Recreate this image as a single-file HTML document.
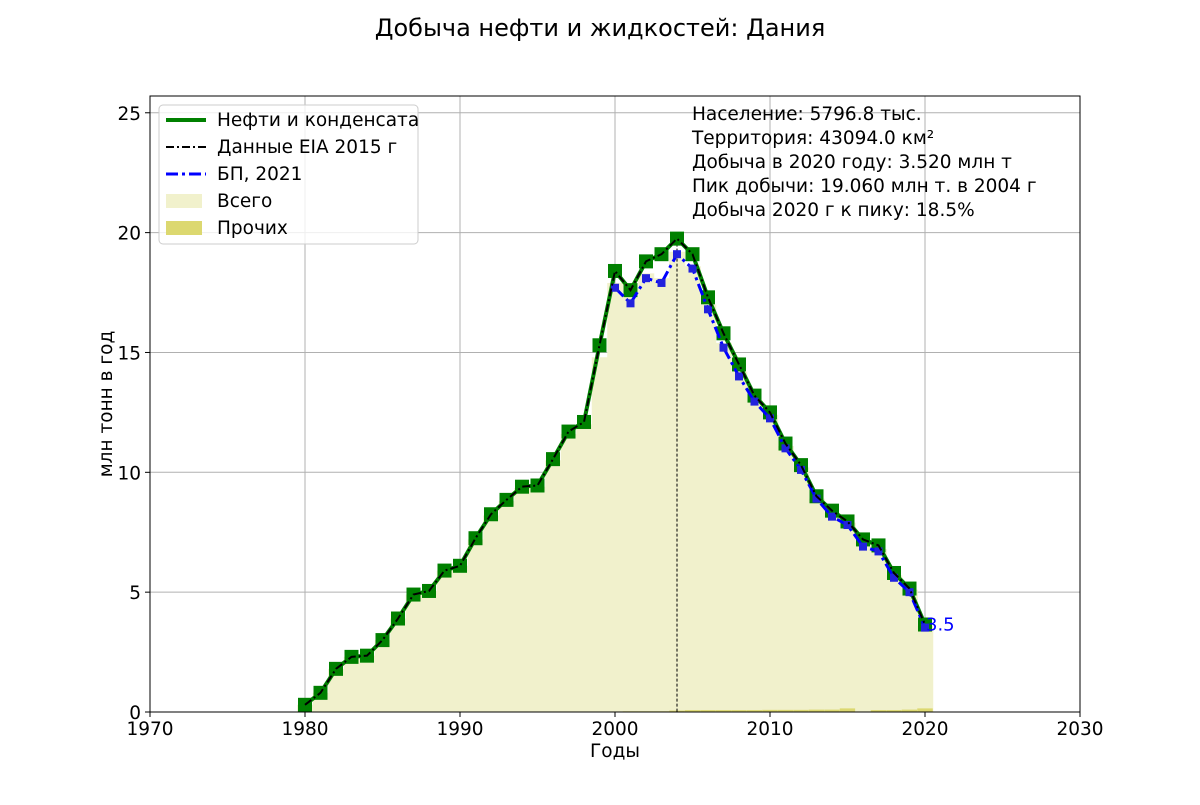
<!DOCTYPE html>
<html><head><meta charset="utf-8"><style>
body{margin:0;background:#fff;font-family:"Liberation Sans","DejaVu Sans",sans-serif}
svg text{font-family:"DejaVu Sans","Liberation Sans",sans-serif}
</style></head><body>
<svg id="c" width="1200" height="800" xmlns="http://www.w3.org/2000/svg"></svg>
<script>
const years=[1980,1981,1982,1983,1984,1985,1986,1987,1988,1989,1990,1991,1992,1993,1994,1995,1996,1997,1998,1999,2000,2001,2002,2003,2004,2005,2006,2007,2008,2009,2010,2011,2012,2013,2014,2015,2016,2017,2018,2019,2020];
const oil=[0.3,0.8,1.8,2.3,2.35,3.0,3.9,4.9,5.05,5.9,6.1,7.25,8.25,8.85,9.4,9.45,10.55,11.7,12.1,15.3,18.4,17.6,18.8,19.1,19.75,19.1,17.3,15.8,14.5,13.2,12.5,11.2,10.3,9.0,8.4,7.95,7.2,6.95,5.8,5.15,3.65];
const eia=[0.3,0.8,1.8,2.3,2.35,3.0,3.9,4.9,5.05,5.9,6.1,7.25,8.25,8.85,9.4,9.45,10.55,11.7,12.1,15.3,18.4,17.6,18.8,19.1,19.75,19.1,17.3,15.8,14.5,13.2,12.5,11.2,10.3,9.0,8.4,7.95,7.2,6.95,5.8,5.15,3.65];
const bpYears=[2000,2001,2002,2003,2004,2005,2006,2007,2008,2009,2010,2011,2012,2013,2014,2015,2016,2017,2018,2019,2020];
const bp=[17.7,17.05,18.1,17.9,19.1,18.5,16.8,15.2,14.0,12.95,12.25,11.0,10.1,8.9,8.15,7.8,6.9,6.7,5.6,5.0,3.52];
const total=[0.3,0.8,1.8,2.3,2.35,3.0,3.9,4.9,5.05,5.9,6.1,7.2,8.2,8.8,9.35,9.4,10.5,11.6,12.0,14.8,17.9,17.3,18.3,18.1,19.2,18.6,17.0,15.4,14.2,13.0,12.4,11.1,10.2,8.9,8.3,7.9,7.1,6.8,5.7,5.1,3.6];
const other=[0,0,0,0,0,0,0,0,0,0,0,0,0,0,0,0,0,0,0,0,0,0.03,0.03,0.03,0.06,0.08,0.08,0.08,0.08,0.08,0.09,0.09,0.09,0.1,0.1,0.15,0,0.08,0.08,0.1,0.15];
const xTicks=[1970,1980,1990,2000,2010,2020,2030];
const yTicks=[0,5,10,15,20,25];
const peakYear=2004;
const NS="http://www.w3.org/2000/svg";
const svg=document.getElementById('c');
const L=150,R=1080,T=96,B=712;
const X=v=>L+(v-1970)/60*(R-L);
const Y=v=>B-v/25.7*(B-T);
function el(t,a,p){const e=document.createElementNS(NS,t);for(const k in a)e.setAttribute(k,a[k]);(p||svg).appendChild(e);return e;}
xTicks.forEach(t=>{const g=el('line',{x1:X(t),x2:X(t),y1:T,y2:B,stroke:'#b0b0b0','stroke-width':1});


const tx=el('text',{x:X(t),y:735,'text-anchor':'middle','font-size':18.5});tx.textContent=t;


el('line',{x1:X(t),x2:X(t),y1:B,y2:B+5,stroke:'#000'});});
yTicks.forEach(t=>{const g=el('line',{x1:L,x2:R,y1:Y(t),y2:Y(t),stroke:'#b0b0b0','stroke-width':1});


const tx=el('text',{x:141,y:Y(t)+7,'text-anchor':'end','font-size':18.5});tx.textContent=t;


el('line',{x1:L-5,x2:L,y1:Y(t),y2:Y(t),stroke:'#000'});});
years.forEach((yr,i)=>{const r=el('rect',{x:X(yr-0.5),y:Y(total[i]),width:X(yr+0.5)-X(yr-0.5)+0.5,height:B-Y(total[i]),fill:'#f1f1cc'});


if(other[i]>0){const o=el('rect',{x:X(yr-0.5),y:Y(other[i]),width:X(yr+0.5)-X(yr-0.5),height:B-Y(other[i]),fill:'#dcd870'});

}});
const pl=el('line',{x1:X(peakYear),x2:X(peakYear),y1:Y(oil[years.indexOf(peakYear)]),y2:B,stroke:'#000','stroke-width':1,'stroke-dasharray':'3,2'});


const pts=(ys,a)=>ys.map((y,i)=>X(y)+','+Y(a[i])).join(' ');
const g=el('polyline',{points:pts(years,oil),fill:'none',stroke:'#008000','stroke-width':4});


years.forEach((y,i)=>{const m=el('rect',{x:X(y)-7,y:Y(oil[i])-7,width:14,height:14,fill:'#008000'});

});
const b=el('polyline',{points:pts(bpYears,bp),fill:'none',stroke:'#0000ff','stroke-width':3,'stroke-dasharray':'12,4,3,4'});


bpYears.forEach((y,i)=>{const m=el('rect',{x:X(y)-4,y:Y(bp[i])-4,width:8,height:8,fill:'#2222dd'});

});
const k=el('polyline',{points:pts(years,eia),fill:'none',stroke:'#000','stroke-width':2,'stroke-dasharray':'8,3,2,3'});


const lab=el('text',{x:X(2020)+1,y:Y(bp[bp.length-1])+3,'font-size':18,fill:'#0000ff'});lab.textContent=bp[bp.length-1].toFixed(1);


el('rect',{x:L,y:T,width:R-L,height:B-T,fill:'none',stroke:'#000','stroke-width':1});
const tt=el('text',{x:600,y:36,'text-anchor':'middle','font-size':24});tt.textContent='Добыча нефти и жидкостей: Дания';

const xt=el('text',{x:615,y:757,'text-anchor':'middle','font-size':18.5});xt.textContent='Годы';

const yt=el('text',{x:112,y:404,'text-anchor':'middle','font-size':18.5,transform:'rotate(-90 112 404)'});yt.textContent='млн тонн в год';

['Население: 5796.8 тыс.','Территория: 43094.0 км²','Добыча в 2020 году: 3.520 млн т','Пик добычи: 19.060 млн т. в 2004 г','Добыча 2020 г к пику: 18.5%'].forEach((s,i)=>{
const a=el('text',{x:692,y:120+i*24,'font-size':18.5});a.textContent=s;
});
const lg=el('g',{});
el('rect',{x:159,y:105,width:259,height:139,rx:4,fill:'#fff','fill-opacity':0.8,stroke:'#ccc'},lg);
const items=[['Нефти и конденсата','g'],['Данные EIA 2015 г','k'],['БП, 2021','b'],['Всего','t'],['Прочих','o']];
items.forEach((it,i)=>{const y=120+i*27;
if(it[1]=='g')el('line',{x1:166,x2:206,y1:y,y2:y,stroke:'#008000','stroke-width':4},lg);
if(it[1]=='k')el('line',{x1:166,x2:206,y1:y,y2:y,stroke:'#000','stroke-width':2,'stroke-dasharray':'8,3,2,3'},lg);
if(it[1]=='b')el('line',{x1:166,x2:206,y1:y,y2:y,stroke:'#0000ff','stroke-width':3,'stroke-dasharray':'12,4,3,4'},lg);
if(it[1]=='t')el('rect',{x:166,y:y-7,width:36,height:14,fill:'#f1f1cc'},lg);
if(it[1]=='o')el('rect',{x:166,y:y-7,width:36,height:14,fill:'#dcd870'},lg);
const t=el('text',{x:217,y:y+6,'font-size':18.5},lg);t.textContent=it[0];
});
</script>
</body></html>
